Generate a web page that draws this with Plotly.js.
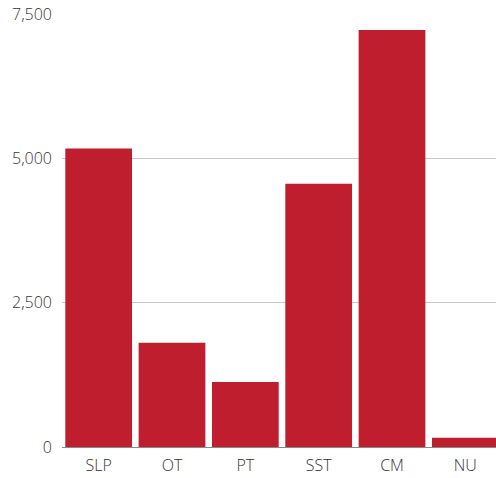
<!DOCTYPE html>
<html>
<head>
<meta charset="utf-8">
<script src="https://cdn.plot.ly/plotly-3.0.1.min.js"></script>
<style>html,body{margin:0;padding:0;background:#fff;overflow:hidden;width:496px;height:478px;}#chart{width:502px;height:478px;}</style>
</head>
<body>
<div id="chart"></div>
<script>
const categories = ["SLP", "OT", "PT", "SST", "CM", "NU"];
const values = [5170, 1805, 1128, 4560, 7225, 160];
const yTicks = [0, 2500, 5000, 7500];
const yTickLabels = ["0", "2,500", "5,000", "7,500"];

Plotly.newPlot("chart", [{
  type: "bar",
  x: categories,
  y: values,
  marker: {color: "#be1e2d"},
  hoverinfo: "x+y"
}], {
  width: 502, height: 478,
  margin: {l: 62, r: 0, t: 14, b: 31},
  paper_bgcolor: "#fff", plot_bgcolor: "#fff",
  bargap: 0.09,
  font: {family: "Open Sans, sans-serif", size: 16, color: "#333", weight: 300},
  xaxis: {showgrid: false, showline: false, ticks: "", ticklabelstandoff: 7, tickfont: {size: 16, color: "#333", weight: 300}},
  yaxis: {range: [0, 7500], tickvals: yTicks, ticktext: yTickLabels, showgrid: true,
          gridcolor: "#c8c8c8", gridwidth: 1, zeroline: true, zerolinecolor: "#888", zerolinewidth: 1,
          showline: false, ticks: "", ticklabelstandoff: 9, tickfont: {size: 16, color: "#333", weight: 300}},
  showlegend: false
}, {displayModeBar: false, staticPlot: true});
</script>
</body>
</html>
